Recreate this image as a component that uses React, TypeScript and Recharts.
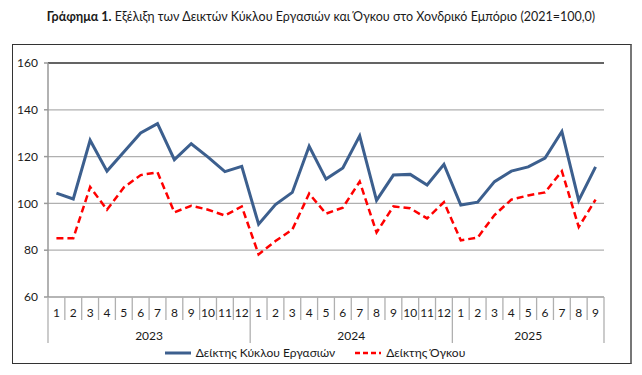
import React from "react";
import {
  LineChart,
  Line,
  XAxis,
  YAxis,
  CartesianGrid,
  ReferenceLine,
} from "recharts";

// ---------------------- DATA ----------------------
const years = ["2023", "2024", "2025"];
const monthsPerYear = [12, 12, 9];
const turnover = [
  104.4, 101.9, 127.0, 113.8, 122.0, 130.1, 134.1, 118.7, 125.5, 119.8, 113.6, 115.8,
  91.1, 99.5, 104.7, 124.4, 110.4, 115.1, 128.9, 101.3, 112.1, 112.4, 107.9, 116.7,
  99.3, 100.5, 109.3, 113.8, 115.6, 119.4, 130.7, 101.3, 115.6,
];
const volume = [
  85.1, 85.1, 107.0, 97.3, 106.8, 112.1, 113.3, 96.2, 99.0, 97.3, 94.8, 98.7,
  78.2, 83.9, 88.8, 104.2, 95.6, 98.2, 109.3, 87.6, 98.7, 97.9, 93.6, 100.5,
  84.2, 85.4, 95.0, 101.6, 103.4, 104.7, 113.8, 89.9, 101.6,
];
const yTicks = [60, 80, 100, 120, 140, 160];
const seriesNames = ["Δείκτης Κύκλου Εργασιών", "Δείκτης Όγκου"];

const rows = years.flatMap((yr, yi) =>
  Array.from({ length: monthsPerYear[yi] }, (_, m) => ({ key: `${yr}-${m + 1}`, year: yr, month: m + 1 }))
).map((r, i) => ({ ...r, turnover: turnover[i], volume: volume[i] }));

const W = 642;
const H = 375;
const PLOT_L = 48;
const PLOT_R = 604;
const BW = (PLOT_R - PLOT_L) / rows.length;
const FONT = "Lato, 'Open Sans', sans-serif";
const BLUE = "#3c5f8e";
const RED = "#ff0000";

const MonthTick = (props: any) => {
  const { x, y, index } = props;
  const row = rows[index];
  if (!row) return null;
  const left = x - BW / 2;
  const yi = years.indexOf(row.year);
  const isYearStart = row.month === 1;
  const isLast = index === rows.length - 1;
  return (
    <g>
      <line x1={left} x2={left} y1={y} y2={isYearStart ? y + 46 : y + 23} stroke="#b0b0b0" strokeWidth={1.3} />
      {isLast && (
        <line x1={x + BW / 2} x2={x + BW / 2} y1={y} y2={y + 46} stroke="#b0b0b0" strokeWidth={1.3} />
      )}
      <text x={x} y={y + 20} textAnchor="middle" fontSize={12} fill="#1a1a1a" fontFamily={FONT}>
        {row.month}
      </text>
      {isYearStart && (
        <text
          x={left + (monthsPerYear[yi] * BW) / 2}
          y={y + 43}
          textAnchor="middle"
          fontSize={12}
          fill="#1a1a1a"
          fontFamily={FONT}
        >
          {row.year}
        </text>
      )}
    </g>
  );
};

const LegendBox = () => (
  <div
    style={{
      position: "absolute",
      left: 0,
      top: 345,
      width: W,
      display: "flex",
      justifyContent: "center",
      alignItems: "center",
      gap: 20,
      fontFamily: FONT,
      fontSize: 12,
      color: "#1a1a1a",
    }}
  >
    <span style={{ display: "flex", alignItems: "center", gap: 5, marginLeft: -12 }}>
      <svg width={26} height={6}>
        <line x1={0} x2={26} y1={3} y2={3} stroke={BLUE} strokeWidth={3} />
      </svg>
      {seriesNames[0]}
    </span>
    <span style={{ display: "flex", alignItems: "center", gap: 5 }}>
      <svg width={26} height={6}>
        <line x1={0} x2={26} y1={3} y2={3} stroke={RED} strokeWidth={2.5} strokeDasharray="5 3" />
      </svg>
      {seriesNames[1]}
    </span>
  </div>
);

export default function App() {
  return (
    <div style={{ position: "absolute", left: 0, top: 0, width: W, height: H, background: "#fff" }}>
      <div
        style={{
          position: "absolute",
          left: 0,
          top: 9,
          width: W,
          textAlign: "center",
          fontFamily: FONT,
          fontSize: 12.5,
          color: "#1a1a1a",
        }}
      >
        <b>Γράφημα 1.</b> Εξέλιξη των Δεικτών Κύκλου Εργασιών και Όγκου στο Χονδρικό Εμπόριο (2021=100,0)
      </div>
      <div
        style={{
          position: "absolute",
          left: 12,
          top: 44,
          width: 617,
          height: 318,
          borderTop: "1.5px solid #333",
          borderLeft: "1.5px solid #333",
          borderBottom: "1.5px solid #333",
          borderRight: "2px solid #777",
        }}
      />
      <div style={{ position: "absolute", left: 0, top: 0 }}>
        <LineChart width={W} height={H} data={rows} margin={{ top: 63, right: W - PLOT_R, bottom: 18, left: 0 }}>
          <CartesianGrid vertical={false} stroke="#b0b0b0" strokeWidth={1.3} />
          <XAxis
            dataKey="key"
            interval={0}
            padding={{ left: BW / 2, right: BW / 2 }}
            tick={<MonthTick />}
            tickLine={false}
            tickSize={0}
            tickMargin={0}
            axisLine={{ stroke: "#b0b0b0", strokeWidth: 1.3 }}
            height={60}
          />
          <YAxis
            domain={[60, 160]}
            ticks={yTicks}
            width={PLOT_L}
            tick={{ fontSize: 12, fill: "#1a1a1a", fontFamily: FONT }}
            tickSize={4}
            tickMargin={6}
            stroke="#999"
            strokeWidth={1.5}
          />
          <YAxis
            yAxisId="r"
            orientation="right"
            domain={[60, 160]}
            width={0}
            tick={false}
            tickLine={false}
            axisLine={{ stroke: "#333", strokeWidth: 1.5 }}
          />
          <ReferenceLine y={160} stroke="#444" strokeWidth={1.5} />
          <Line
            dataKey="turnover"
            name={seriesNames[0]}
            stroke={BLUE}
            strokeWidth={3}
            dot={false}
            isAnimationActive={false}
          />
          <Line
            dataKey="volume"
            name={seriesNames[1]}
            stroke={RED}
            strokeWidth={2.5}
            strokeDasharray="7 4"
            dot={false}
            isAnimationActive={false}
          />
        </LineChart>
      </div>
      <LegendBox />
    </div>
  );
}
